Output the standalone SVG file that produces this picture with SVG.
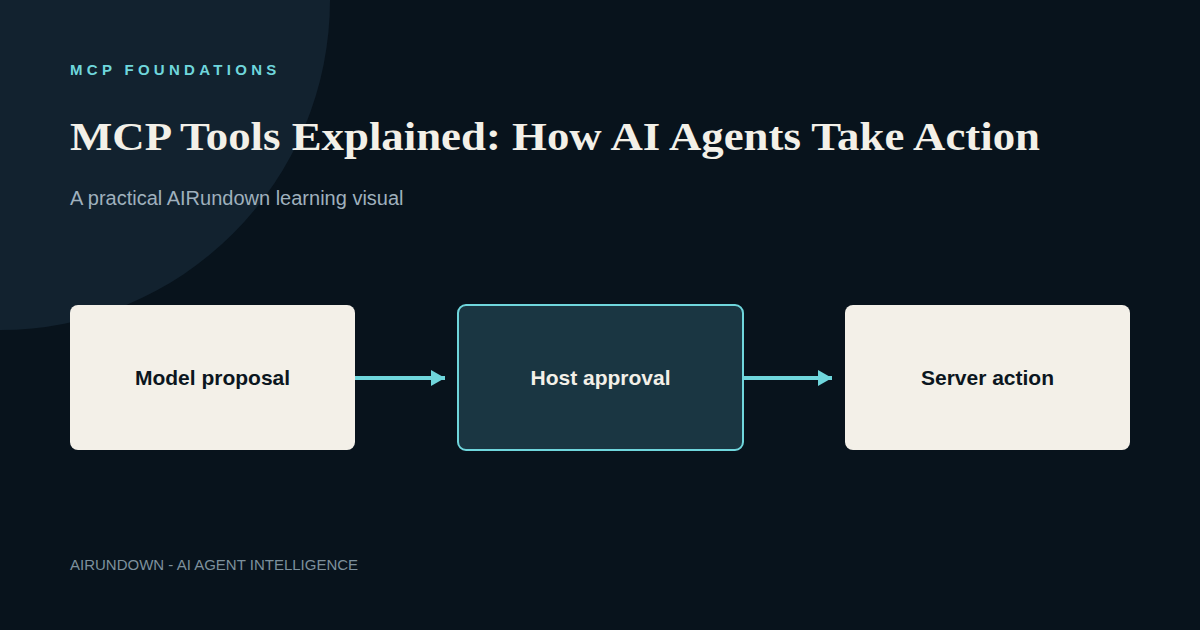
<svg xmlns="http://www.w3.org/2000/svg" width="1200" height="630" viewBox="0 0 1200 630">
<defs>
<style>
.sans{font-family:"Liberation Sans",Arial,sans-serif}
.node-light{fill:#f3f0e8}
.node-dark{fill:#1a3642;stroke:#6fd6dc;stroke-width:2}
.lbl{font-family:"Liberation Sans",Arial,sans-serif;font-weight:bold;font-size:21px;text-anchor:middle}
.conn{stroke:#6fd6dc;stroke-width:4;fill:none}
</style>
<marker id="arr" viewBox="0 0 14 16" refX="14" refY="8" markerWidth="14" markerHeight="16" markerUnits="userSpaceOnUse" orient="auto">
<path d="M0,0 L14,8 L0,16 Z" fill="#6fd6dc"/>
</marker>
</defs>
<rect width="1200" height="630" fill="#08131c"/>
<circle cx="0" cy="0" r="330" fill="#12222f"/>
<text x="70" y="75" class="sans" font-size="15" font-weight="bold" letter-spacing="4.3" fill="#6fd6dc">MCP FOUNDATIONS</text>
<text x="70" y="150" font-family="'Liberation Serif','Times New Roman',serif" font-size="41" font-weight="bold" fill="#f3f0e8" textLength="970" lengthAdjust="spacingAndGlyphs">MCP Tools Explained: How AI Agents Take Action</text>
<text x="70" y="205" class="sans" font-size="20" fill="#9fb0bd">A practical AIRundown learning visual</text>
<g id="connectors">
<line class="conn" x1="355" y1="378" x2="445" y2="378" marker-end="url(#arr)"/>
<line class="conn" x1="743" y1="378" x2="832" y2="378" marker-end="url(#arr)"/>
</g>
<g id="node-model">
<rect class="node-light" x="70" y="305" width="285" height="145" rx="8"/>
<text class="lbl" x="212.5" y="385" fill="#0b1620">Model proposal</text>
</g>
<g id="node-host">
<rect class="node-dark" x="458" y="305" width="285" height="145" rx="8"/>
<text class="lbl" x="600.5" y="385" fill="#f3f0e8">Host approval</text>
</g>
<g id="node-server">
<rect class="node-light" x="845" y="305" width="285" height="145" rx="8"/>
<text class="lbl" x="987.5" y="385" fill="#0b1620">Server action</text>
</g>
<text x="70" y="570" class="sans" font-size="15" fill="#7d909c">AIRUNDOWN - AI AGENT INTELLIGENCE</text>
</svg>
